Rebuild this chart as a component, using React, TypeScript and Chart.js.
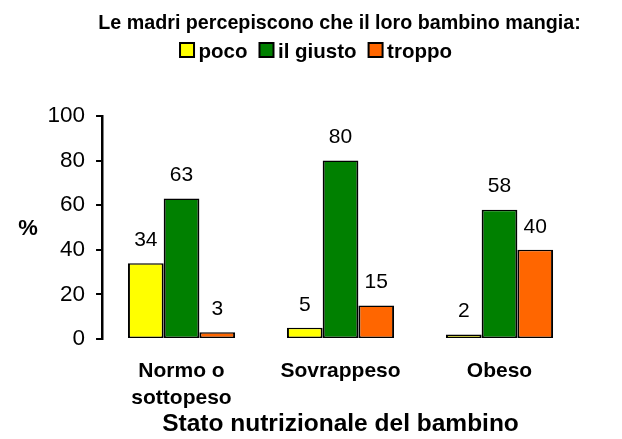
import React, { useEffect, useRef } from "react";
import { Chart, registerables } from "chart.js";

Chart.register(...registerables);

const categories: (string | string[])[] = [["Normo o", "sottopeso"], "Sovrappeso", "Obeso"];
const seriesNames = ["poco", "il giusto", "troppo"];
const poco = [34, 5, 2];
const giusto = [63, 80, 58];
const troppo = [3, 15, 40];
const colors = ["#FFFF00", "#008000", "#FF6600"];
const yTicks = [0, 20, 40, 60, 80, 100];
const titleText = "Le madri percepiscono che il loro bambino mangia:";
const xTitle = "Stato nutrizionale del bambino";
const yTitle = "%";

const FONT = "Arial, 'Liberation Sans', sans-serif";

export default function App() {
  const ref = useRef<HTMLCanvasElement>(null);
  useEffect(() => {
    document.body.style.margin = "0";
    const labelsPlugin = {
      id: "valueLabels",
      afterDatasetsDraw(chart: any) {
        const ctx = chart.ctx;
        ctx.save();
        ctx.font = `21px ${FONT}`;
        ctx.fillStyle = "#000";
        ctx.textAlign = "center";
        ctx.textBaseline = "middle";
        chart.data.datasets.forEach((ds: any, i: number) => {
          const meta = chart.getDatasetMeta(i);
          meta.data.forEach((el: any, j: number) => {
            ctx.fillText(String(ds.data[j]), el.x, el.y - 23);
          });
        });
        ctx.restore();
      },
    };
    const headerPlugin = {
      id: "header",
      afterDraw(chart: any) {
        const ctx = chart.ctx;
        const ca = chart.chartArea;
        ctx.save();
        ctx.fillStyle = "#000";
        // title
        ctx.font = `bold 19.7px ${FONT}`;
        ctx.textAlign = "center";
        ctx.textBaseline = "alphabetic";
        ctx.fillText(titleText, (ca.left + ca.right) / 2 - 1, 28.5);
        // y title
        ctx.font = `bold 22px ${FONT}`;
        ctx.textBaseline = "middle";
        ctx.fillText(yTitle, 28, 229);
        // legend
        ctx.font = `bold 20.5px ${FONT}`;
        ctx.textAlign = "left";
        ctx.textBaseline = "alphabetic";
        const box = 14;
        const gapBT = 4.5;
        const gapTB = 12;
        const items = chart.data.datasets.map((ds: any) => ({
          label: ds.label,
          color: ds.backgroundColor,
          w: ctx.measureText(ds.label).width,
        }));
        const total =
          items.reduce((s: number, it: any) => s + box + gapBT + it.w, 0) +
          gapTB * (items.length - 1);
        let x = 316 - total / 2;
        const boxTop = 43;
        items.forEach((it: any) => {
          ctx.fillStyle = it.color;
          ctx.fillRect(x, boxTop, box, box);
          ctx.lineWidth = 2;
          ctx.strokeStyle = "#000";
          ctx.strokeRect(x, boxTop, box, box);
          ctx.fillStyle = "#000";
          ctx.fillText(it.label, x + box + gapBT, 57.5);
          x += box + gapBT + it.w + gapTB;
        });
        ctx.restore();
      },
    };
    const data = [poco, giusto, troppo];
    const chart = new Chart(ref.current!, {
      type: "bar",
      data: {
        labels: categories,
        datasets: seriesNames.map((n, i) => ({
          label: n,
          data: data[i],
          backgroundColor: colors[i],
          borderColor: "#000",
          borderWidth: { top: 1.5, bottom: 1.5, left: 2, right: 2 },
          borderSkipped: false,
          categoryPercentage: 0.674,
          barPercentage: 1,
        })),
      },
      options: {
        animation: false,
        responsive: false,
        layout: { padding: { left: 36.5, right: 43, top: 116, bottom: 0 } },
        plugins: {
          title: { display: false },
          legend: { display: false },
          tooltip: { enabled: false },
        },
        scales: {
          x: {
            grid: { display: false, drawTicks: false },
            border: { display: false },
            ticks: {
              color: "#000",
              font: { family: FONT, size: 21, weight: "bold", lineHeight: 27 / 21 },
              padding: 18.5,
            },
            title: {
              display: true,
              text: xTitle,
              color: "#000",
              font: { family: FONT, size: 24.5, weight: "bold", lineHeight: 1 },
              padding: { top: -18.5, bottom: 3 },
            },
          },
          y: {
            min: 0,
            max: 100,
            afterBuildTicks(axis: any) {
              axis.ticks = yTicks.map((v) => ({ value: v }));
            },
            grid: {
              display: true,
              drawOnChartArea: false,
              drawTicks: true,
              tickLength: 6,
              color: "#000",
              lineWidth: 2,
            },
            border: { display: true, color: "#000", width: 2.5 },
            ticks: {
              color: "#000",
              font: { family: FONT, size: 22.5 },
              padding: 11,
            },
          },
        },
      },
      plugins: [labelsPlugin, headerPlugin],
    });
    return () => chart.destroy();
  }, []);
  return (
    <div style={{ width: 622, height: 439 }}>
      <canvas ref={ref} width={622} height={439} />
    </div>
  );
}
